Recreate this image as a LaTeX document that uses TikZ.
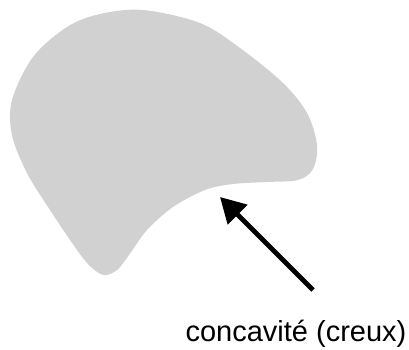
\documentclass[tikz,border=0pt]{standalone}
\usepackage{fontspec}
\setmainfont{Liberation Sans}
\usetikzlibrary{arrows.meta}
\definecolor{blobgray}{RGB}{209,209,209}
\tikzset{
  blob/.style={fill=blobgray, draw=none},
  pointer/.style={line width=4.8pt, -{Triangle[length=25pt,width=27pt]}},
  label/.style={font=\fontsize{29}{34}\selectfont, inner sep=0pt}
}
\begin{document}
\begin{tikzpicture}[x=1pt,y=-1pt]
\useasboundingbox (0,0) rectangle (409,349);
\fill[blob] plot[smooth cycle, tension=0.55] coordinates {
(143,10) (200,23) (240,48) (283,83) (307,113) (317,145) (313,169) (298,180)
(267,182) (233,184) (205,190) (173,207) (147,230) (129,255) (117,270) (104,275)
(91,267) (77,250) (50,210) (27,173) (12,135) (12,100) (33,57) (67,27) (100,14)};
\coordinate (tail) at (313,290);
\coordinate (tip) at (220,197);
\draw[pointer] (tail) -- (tip);
\node[label, anchor=base] (txt) at (296,341) {concavité (creux)};
\end{tikzpicture}
\end{document}
